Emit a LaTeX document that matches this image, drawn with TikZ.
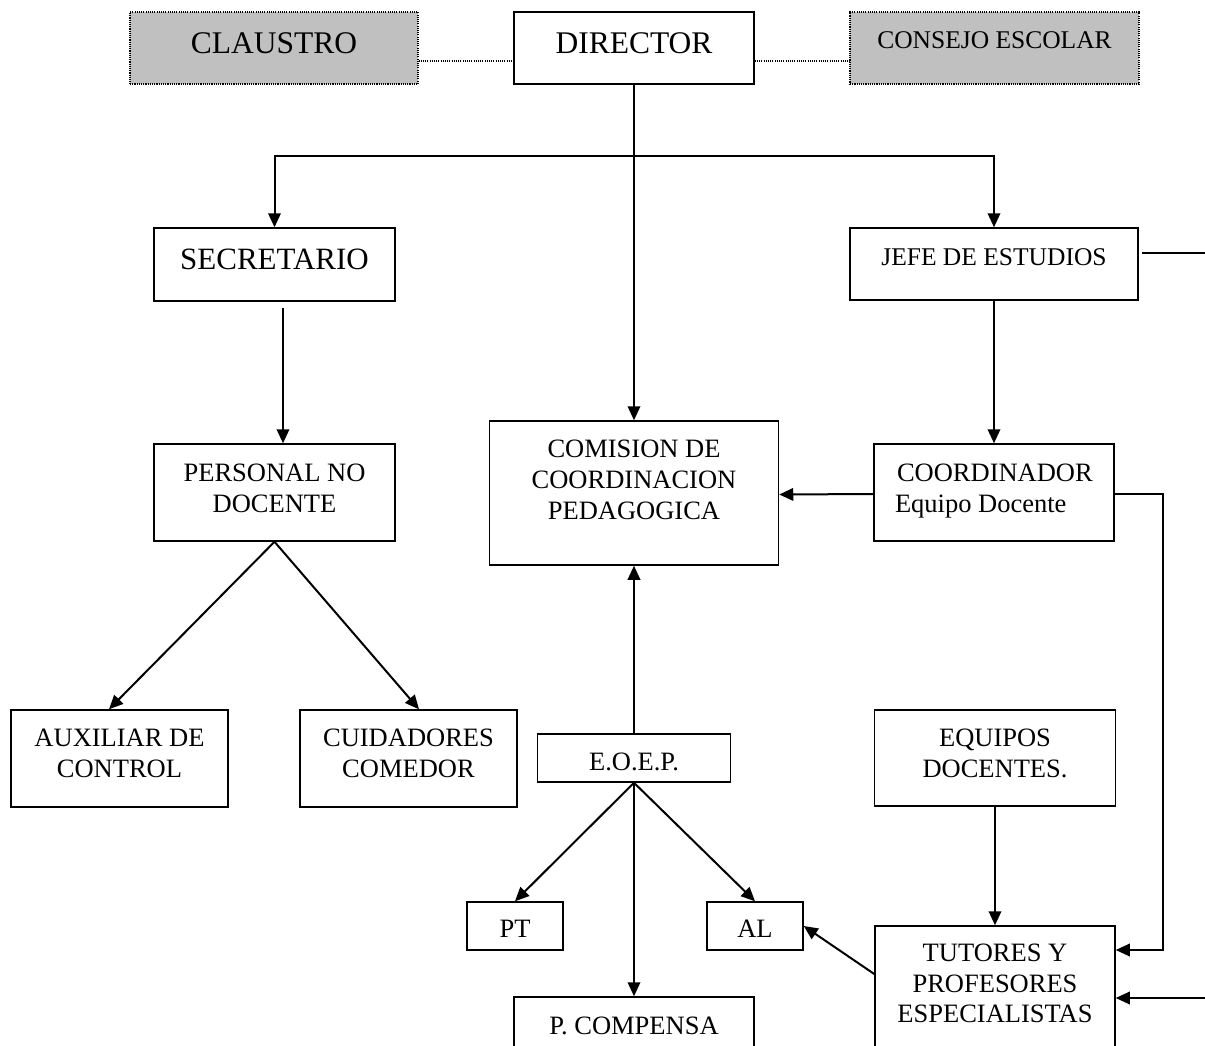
\documentclass[tikz,border=0pt]{standalone}
\usepackage{fontspec}
\setmainfont{Liberation Serif}
\usetikzlibrary{arrows.meta}
\newcommand{\bxt}[4]{\parbox[c][#2pt][t]{#1pt}{\centering\rule{0pt}{#3pt}#4\par}}
\definecolor{shade}{HTML}{C0C0C0}
\begin{document}
\begin{tikzpicture}[x=1pt,y=-1pt,
  box/.style={draw, line width=1.5pt, inner sep=0pt},
  gbox/.style={draw, fill=shade, line width=1.1pt, dash pattern=on 1.1pt off 1.1pt, inner sep=0pt},
  big/.style={font=\fontsize{31.5pt}{36pt}\selectfont},
  mid/.style={font=\fontsize{26.5pt}{30.5pt}\selectfont},
  sml/.style={font=\fontsize{25.5pt}{30pt}\selectfont},
  arr/.style={line width=2pt, -{Triangle[length=14pt,width=12.5pt]}},
  con/.style={line width=2pt},
  dotl/.style={line width=1.1pt, dash pattern=on 1.1pt off 1.1pt}]
\useasboundingbox (0,0) rectangle (1205,1045);
\fill[white] (0,0) rectangle (1205,1045);
\clip (0,0) rectangle (1205,1045);

% top row
\node[gbox,big] (claustro) at (274,48) {\bxt{288}{72}{41}{CLAUSTRO}};
\node[box,big] (director) at (634,48) {\bxt{240}{72}{41}{DIRECTOR}};
\node[gbox,sml] (consejo) at (994.5,48) {\bxt{289}{72}{36}{CONSEJO ESCOLAR}};

% second row
\node[box,font=\fontsize{31pt}{36pt}\selectfont] (secretario) at (274.5,264.5) {\bxt{241}{73}{41}{SECRETARIO}};
\node[box,sml] (jefe) at (994,264) {\bxt{288}{72}{37}{JEFE DE ESTUDIOS}};

% third row
\node[box,mid] (personal) at (274.5,492.5) {\bxt{241}{97}{37.5}{PERSONAL NO\\DOCENTE}};
\node[box,font=\fontsize{26.5pt}{31pt}\selectfont] (comision) at (634,493) {\bxt{289}{144}{36}{COMISION DE\\COORDINACION\\PEDAGOGICA}};
\node[box,mid] (coord) at (994,492.5) {\parbox[c][97pt][t]{240pt}{\raggedright\rule{0pt}{37.5pt}\hspace*{23pt}COORDINADOR\\\hspace*{21pt}Equipo Docente\par}};

% fourth row
\node[box,mid] (auxiliar) at (119.5,758.5) {\bxt{217}{97}{36.7}{AUXILIAR DE\\CONTROL}};
\node[box,mid] (cuidadores) at (408.5,758.5) {\bxt{217}{97}{36.7}{CUIDADORES\\COMEDOR}};
\node[box,mid] (eoep) at (634,758) {\bxt{193}{48}{36}{E.O.E.P.}};
\node[box,mid] (equipos) at (995,758) {\bxt{241}{96}{36.7}{EQUIPOS\\DOCENTES.}};

% bottom rows
\node[box,mid] (pt) at (515,926) {\bxt{96}{48}{35.3}{PT}};
\node[box,mid] (al) at (755,926) {\bxt{96}{48}{35.3}{AL}};
\node[box,mid] (pcomp) at (634,1042) {\bxt{240}{90}{37}{P. COMPENSA}};
\node[box,mid] (tutores) at (995,998) {\bxt{240}{144}{35.7}{TUTORES Y\\PROFESORES\\ESPECIALISTAS}};

% coordinates
\coordinate (hub) at (634,156);
\coordinate (redgeA) at (1205,253);
\coordinate (redgeB) at (1205,998);
\coordinate (rx) at (1163,0);

% dotted links
\draw[dotl] ([yshift=-13pt]claustro.east) -- ([yshift=-13pt]director.west);
\draw[dotl] ([yshift=-13pt]director.east) -- ([yshift=-13pt]consejo.west);

% director
\draw[arr] (director.south) -- (comision.north);
\draw[line width=1.5pt] (secretario.north |- hub) -- (jefe.north |- hub);
\draw[arr] (hub) -| (secretario.north);
\draw[arr] (hub) -| (jefe.north);

% secretario branch
\draw[arr] ([xshift=8.5pt,yshift=-6pt]secretario.south) -- ([xshift=8.5pt]personal.north);
\draw[arr] (personal.south) -- ([xshift=-10.5pt]auxiliar.north);
\draw[arr] (personal.south) -- ([xshift=10.5pt]cuidadores.north);

% jefe branch
\draw[con] ([xshift=3pt,yshift=11pt]jefe.east) -- (redgeA);
\draw[arr] (jefe.south) -- (coord.north);
\draw[arr] ([yshift=-1.5pt]coord.west) -- ([yshift=-1.5pt]comision.east);
\draw[arr] ([yshift=-1.5pt]coord.east) -- ([yshift=-1.5pt]coord.east -| rx) |- ([yshift=48pt]tutores.east);
\draw[arr] (redgeB) -- (tutores.east);

% eoep
\draw[arr] (eoep.north) -- (comision.south);
\draw[arr] (eoep.south) -- (pt.north);
\draw[arr] (eoep.south) -- (al.north);
\draw[arr] (eoep.south) -- (eoep.south |- pcomp.north);

% equipos / tutores
\draw[arr] (equipos.south) -- (tutores.north);
\draw[arr] ([yshift=24pt]tutores.west) -- (al.east);
\end{tikzpicture}
\end{document}
